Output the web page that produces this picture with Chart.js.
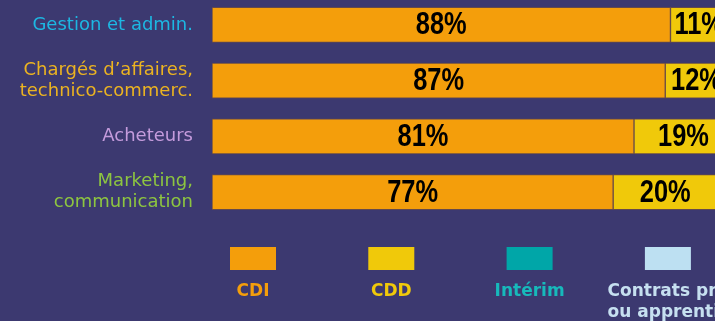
<!DOCTYPE html>
<html lang="fr">
<head>
    <meta charset="UTF-8">
    <title>Types de contrats par métier</title>
    <script src="https://cdn.jsdelivr.net/npm/chart.js"></script>
    <style>
        html, body { margin: 0; padding: 0; overflow: hidden; background: #3c3970; width: 715px; height: 321px; }
        #contratsChart { position: absolute; left: 0; top: -3px; }
    </style>
</head>
<body>
    <canvas id="contratsChart" width="733" height="324"></canvas>

    <script>
        // categories (one array per tick label line)
        const categories = [
            ["Gestion et admin."],
            ["Chargés d’affaires,", "technico-commerc."],
            ["Acheteurs"],
            ["Marketing,", "communication"]
        ];
        const categoryColors = ["#1db7e2", "#ebb321", "#c49bdc", "#8dc540"];

        // share of each contract type, in %
        const cdi = [88, 87, 81, 77];
        const cdd = [11, 12, 19, 20];
        const interim = [0, 0, 0, 1];
        const contratsPro = [1, 1, 0, 2];

        const seriesNames = ["CDI", "CDD", "Intérim", ["Contrats pro", "ou apprentissage"]];
        const seriesColors = ["#f49e0b", "#f0c90a", "#00a6a8", "#bde0f2"];
        const legendTextColors = ["#f49e0b", "#f0c90a", "#17b9bb", "#c6e0f0"];

        // percentage written in the middle of each segment (narrowed bold sans)
        const valueLabels = {
            id: "valueLabels",
            afterDatasetsDraw(chart) {
                let ctx = chart.ctx;
                chart.data.datasets.forEach((ds, i) => {
                    chart.getDatasetMeta(i).data.forEach((bar, j) => {
                        let v = ds.data[j];
                        if (v < 5) return;
                        ctx.save();
                        ctx.translate((bar.base + bar.x) / 2, bar.y + 1);
                        ctx.scale(0.82, 1);
                        ctx.font = "bold 31px 'Liberation Sans', Arial, sans-serif";
                        ctx.fillStyle = "#000";
                        ctx.textAlign = "center";
                        ctx.textBaseline = "middle";
                        ctx.fillText(v + "%", 0, 0);
                        ctx.restore();
                    });
                });
            }
        };

        // legend: colour box with the name underneath
        const bottomLegend = {
            id: "bottomLegend",
            afterDraw(chart) {
                let ctx = chart.ctx;
                let firstCenter = 253, step = 138.3;
                let boxW = 46, boxH = 23, boxTop = 250;
                ctx.save();
                ctx.font = "bold 17px 'DejaVu Sans', sans-serif";
                ctx.textBaseline = "alphabetic";
                chart.data.datasets.forEach((ds, i) => {
                    let cx = firstCenter + i * step;
                    ctx.fillStyle = ds.backgroundColor;
                    ctx.fillRect(cx - boxW / 2, boxTop, boxW, boxH);
                    let lines = Array.isArray(ds.label) ? ds.label : [ds.label];
                    let left = cx - ctx.measureText(lines[0]).width / 2;
                    ctx.fillStyle = legendTextColors[i];
                    ctx.textAlign = "left";
                    lines.forEach((line, k) => {
                        ctx.fillText(line, left, 299 + k * 21);
                    });
                });
                ctx.restore();
            }
        };

        let allSeries = [cdi, cdd, interim, contratsPro];

        new Chart(document.getElementById("contratsChart"), {
            type: "bar",
            data: {
                labels: categories,
                datasets: allSeries.map((values, i) => ({
                    label: seriesNames[i],
                    data: values,
                    backgroundColor: seriesColors[i],
                    borderColor: "rgba(150, 95, 30, 0.45)",
                    borderWidth: 1,
                    borderSkipped: false,
                    barThickness: 35
                }))
            },
            options: {
                indexAxis: "y",
                responsive: false,
                animation: false,
                layout: { padding: { left: 0, right: 0, top: 0, bottom: 101 } },
                plugins: {
                    legend: { display: false },
                    tooltip: { enabled: false }
                },
                scales: {
                    x: {
                        stacked: true,
                        display: false,
                        min: 0,
                        max: 100
                    },
                    y: {
                        stacked: true,
                        grid: { display: false, drawTicks: false },
                        border: { display: false },
                        afterFit: scale => {
                            scale.width = 212;
                            scale.paddingTop = 0;
                            scale.paddingBottom = 0;
                        },
                        ticks: {
                            padding: 19,
                            color: c => categoryColors[c.index],
                            font: { family: "'DejaVu Sans', sans-serif", size: 18, lineHeight: "21px" }
                        }
                    }
                }
            },
            plugins: [valueLabels, bottomLegend]
        });
    </script>
</body>
</html>
